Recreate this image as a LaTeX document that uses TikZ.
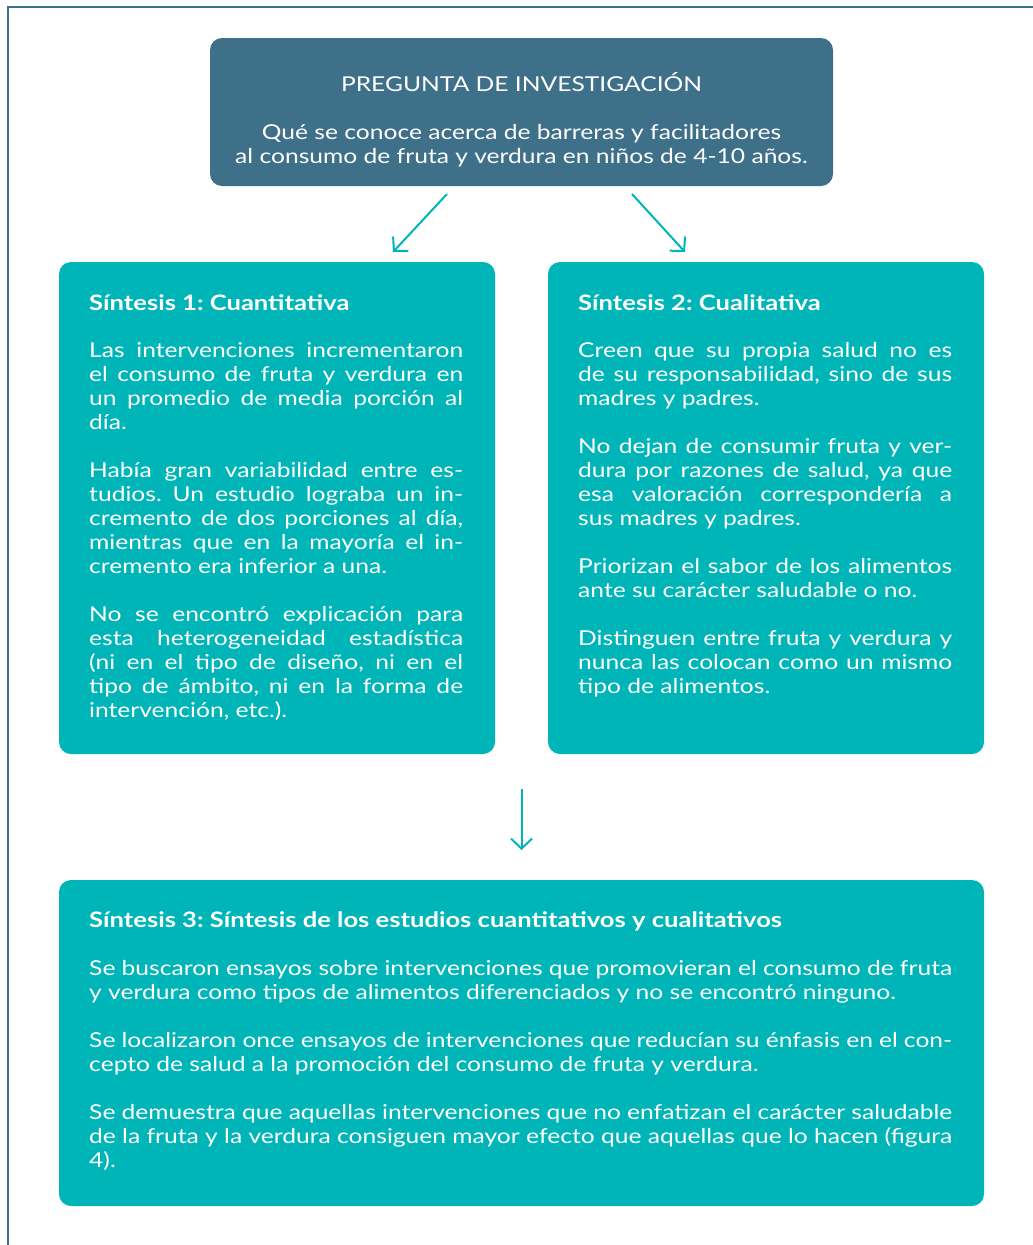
\documentclass[tikz,border=0pt]{standalone}
\usepackage{fontspec}
\setmainfont{Lato}[FakeStretch=1.2]
\usetikzlibrary{arrows.meta,positioning}
\definecolor{boxblue}{HTML}{3F7089}
\definecolor{boxteal}{HTML}{00B5B8}
\frenchspacing
\hyphenpenalty=10000
\newcommand\synthhead[1]{{\fontsize{21.3}{24}\selectfont\bfseries #1}}
\begin{document}
\begin{tikzpicture}[x=1pt,y=-1pt]
        \tikzset{
            style frame/.style={draw=boxblue,line width=2pt},
            style box-blue/.style={fill=boxblue,rounded corners=12pt,inner sep=0pt,outer sep=0pt,anchor=north west},
            style box-teal/.style={fill=boxteal,rounded corners=12pt,inner sep=0pt,outer sep=0pt,anchor=north west},
            style text-body/.style={text=white,inner sep=0pt,anchor=north west,align=justify,
                font=\fontsize{20.5}{24}\selectfont},
            style text-head/.style={text=white,inner sep=0pt,anchor=north,align=center,
                font=\fontsize{20.5}{24}\selectfont},
            style arrow/.style={draw=boxteal,line width=2pt,-{Straight Barb[length=10pt,width=21pt,line width=2pt]}}
        };
        \useasboundingbox (0,0) rectangle (1033,1245);
        % frame
        \draw[style frame] (8,1245) -- (8,7) -- (1033,7);
        % boxes
        \node[style box-blue, minimum width=623pt, minimum height=148pt] (question) at (210,38) {};
        \node[style box-teal, minimum width=436pt, minimum height=492pt] (synth1) at (59,262) {};
        \node[style box-teal, minimum width=436pt, minimum height=492pt] (synth2) at (548,262) {};
        \node[style box-teal, minimum width=925pt, minimum height=326pt] (synth3) at (59,880) {};
        % texts
        \node[style text-head] (question-text) at (521.5,72.2) {\strut PREGUNTA DE INVESTIGACIÓN\\[24pt]
            Qué se conoce acerca de barreras y facilitadores\\
            al consumo de fruta y verdura en niños de 4-10 años.};
        \node[style text-body, text width=374pt] (synth1-text) at (89,293.2) {\strut\synthhead{Síntesis 1: Cuantitativa}\par\vskip23pt
            Las intervenciones incrementaron\linebreak
            el consumo de fruta y verdura en\linebreak
            un promedio de media porción al\linebreak
            día.\par\vskip24pt
            Había gran variabilidad entre es-\linebreak
            tudios. Un estudio lograba un in-\linebreak
            cremento de dos porciones al día,\linebreak
            mientras que en la mayoría el in-\linebreak
            cremento era inferior a una.\par\vskip24pt
            No se encontró explicación para\linebreak
            esta heterogeneidad estadística\linebreak
            (ni en el tipo de diseño, ni en el\linebreak
            tipo de ámbito, ni en la forma de\linebreak
            intervención, etc.).};
        \node[style text-body, text width=374pt] (synth2-text) at (578,293.2) {\strut\synthhead{Síntesis 2: Cualitativa}\par\vskip23pt
            Creen que su propia salud no es\linebreak
            de su responsabilidad, sino de sus\linebreak
            madres y padres.\par\vskip24pt
            No dejan de consumir fruta y ver-\linebreak
            dura por razones de salud, ya que\linebreak
            esa valoración correspondería a\linebreak
            sus madres y padres.\par\vskip24pt
            Priorizan el sabor de los alimentos\linebreak
            ante su carácter saludable o no.\par\vskip24pt
            Distinguen entre fruta y verdura y\linebreak
            nunca las colocan como un mismo\linebreak
            tipo de alimentos.};
        \node[style text-body, text width=863pt] (synth3-text) at (89,910.2) {\strut\synthhead{Síntesis 3: Síntesis de los estudios cuantitativos y cualitativos}\par\vskip24pt
            Se buscaron ensayos sobre intervenciones que promovieran el consumo de fruta\linebreak
            y verdura como tipos de alimentos diferenciados y no se encontró ninguno.\par\vskip24pt
            Se localizaron once ensayos de intervenciones que reducían su énfasis en el con-\linebreak
            cepto de salud a la promoción del consumo de fruta y verdura.\par\vskip24pt
            Se demuestra que aquellas intervenciones que no enfatizan el carácter saludable\linebreak
            de la fruta y la verdura consiguen mayor efecto que aquellas que lo hacen (figura\linebreak
            4).};
        % arrows
        \coordinate (arrow-1a) at (447,194);
        \coordinate (arrow-1b) at (393,252);
        \coordinate (arrow-2a) at (632,194);
        \coordinate (arrow-2b) at (685,252);
        \coordinate (arrow-3a) at (521.5,789);
        \coordinate (arrow-3b) at (521.5,850);
        \draw[style arrow] (arrow-1a) -- (arrow-1b);
        \draw[style arrow] (arrow-2a) -- (arrow-2b);
        \draw[style arrow] (arrow-3a) -- (arrow-3b);
    \end{tikzpicture}
\end{document}
